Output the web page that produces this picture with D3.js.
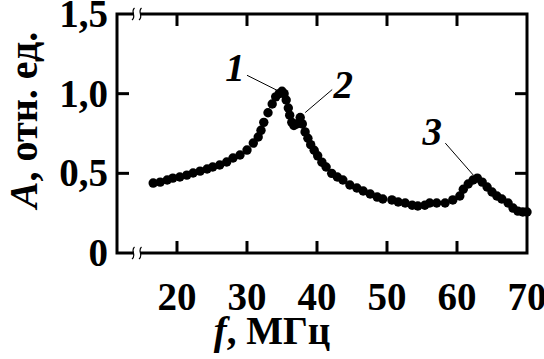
<!DOCTYPE html>
<html>
<head>
<meta charset="utf-8">
<script src="https://cdn.jsdelivr.net/npm/d3@7"></script>
<style>
  body { margin: 0; background: #fff; }
  svg text { font-family: "Liberation Serif", "Times New Roman", serif; font-weight: bold; fill: #000; }
</style>
</head>
<body>
<div id="chart"></div>
<script>
// данные
var freq = [16.6, 17.6, 18.6, 19.4, 20.4, 21.4, 22.3, 23.3, 24.3, 25.1, 26.1, 27.1, 28.0, 29.0, 30.0, 30.9, 31.6, 32.0, 32.4, 33.0, 33.6, 34.1, 34.6, 35.0, 35.3, 35.6, 35.9, 36.1, 36.4, 36.7, 37.1, 37.6, 37.9, 38.3, 38.7, 39.1, 39.6, 40.1, 40.7, 41.3, 42.1, 42.9, 43.7, 44.7, 45.7, 46.6, 47.6, 48.6, 49.4, 50.7, 51.6, 52.6, 53.6, 54.4, 55.4, 56.1, 57.1, 58.3, 59.4, 60.4, 60.9, 61.6, 62.3, 62.9, 63.6, 64.3, 65.0, 65.7, 66.4, 67.3, 68.0, 68.7, 69.4, 70.0]
var amp = [0.439, 0.445, 0.458, 0.47, 0.477, 0.489, 0.502, 0.514, 0.527, 0.54, 0.552, 0.571, 0.596, 0.615, 0.646, 0.69, 0.728, 0.77, 0.82, 0.88, 0.935, 0.98, 1.0, 1.015, 1.0, 0.96, 0.91, 0.865, 0.82, 0.80, 0.81, 0.85, 0.81, 0.76, 0.72, 0.68, 0.645, 0.61, 0.57, 0.54, 0.50, 0.477, 0.458, 0.427, 0.408, 0.389, 0.37, 0.351, 0.339, 0.333, 0.32, 0.314, 0.30, 0.295, 0.30, 0.314, 0.314, 0.314, 0.333, 0.358, 0.40, 0.433, 0.458, 0.47, 0.445, 0.414, 0.383, 0.358, 0.339, 0.314, 0.282, 0.263, 0.257, 0.257]
var xTicks = [20, 30, 40, 50, 60, 70]
var yTicks = [0, 0.5, 1.0, 1.5]
var peakNames = ['1', '2', '3']
var peakFreq = [35.0, 37.6, 62.9]

var width = 544, height = 359
var pLeft = 117, pRight = 527, pTop = 14, pBottom = 253

var svg = d3.select('#chart').append('svg')
  .attr('width', width)
  .attr('height', height)

var x = d3.scaleLinear().domain([11.43, 70]).range([pLeft, pRight])
var y = d3.scaleLinear().domain([0, 1.5]).range([pBottom, pTop])

var fmt = function(d) { return d === 0 ? '0' : d3.format('.1f')(d).replace('.', ',') }

// рамка
svg.append('rect')
  .attr('x', pLeft).attr('y', pTop)
  .attr('width', pRight - pLeft).attr('height', pBottom - pTop)
  .attr('fill', 'none').attr('stroke', '#000').attr('stroke-width', 3)

// засечки внутрь
var tl = 12
svg.selectAll('.tb').data(xTicks.slice(0, -1)).enter().append('line')
  .attr('x1', d => x(d)).attr('x2', d => x(d))
  .attr('y1', pBottom).attr('y2', pBottom - tl)
  .attr('stroke', '#000').attr('stroke-width', 3)
svg.selectAll('.tt').data(xTicks.slice(0, -1)).enter().append('line')
  .attr('x1', d => x(d)).attr('x2', d => x(d))
  .attr('y1', pTop).attr('y2', pTop + tl)
  .attr('stroke', '#000').attr('stroke-width', 3)
svg.selectAll('.tl').data(yTicks.slice(1, -1)).enter().append('line')
  .attr('x1', pLeft).attr('x2', pLeft + tl)
  .attr('y1', d => y(d)).attr('y2', d => y(d))
  .attr('stroke', '#000').attr('stroke-width', 3)
svg.selectAll('.tr').data(yTicks.slice(1, -1)).enter().append('line')
  .attr('x1', pRight).attr('x2', pRight - tl)
  .attr('y1', d => y(d)).attr('y2', d => y(d))
  .attr('stroke', '#000').attr('stroke-width', 3)

// подписи осей
svg.selectAll('.xl').data(xTicks).enter().append('text')
  .attr('x', d => x(d)).attr('y', 310)
  .attr('text-anchor', 'middle')
  .attr('font-size', 39)
  .text(d => d)
svg.selectAll('.yl').data(yTicks).enter().append('text')
  .attr('x', 108).attr('y', d => y(d) + 13)
  .attr('text-anchor', 'end')
  .attr('font-size', 39)
  .text(fmt)

// разрывы оси
function breakMark(cx, cy) {
  var g = svg.append('g').attr('transform', 'translate(' + cx + ',' + cy + ')')
  g.append('rect').attr('x', -3).attr('y', -6).attr('width', 6).attr('height', 12).attr('fill', '#fff')
  ;[-4, 3].forEach(function(o) {
    g.append('path')
      .attr('d', 'M' + (o + 1.5) + ',-6 C' + (o - 3) + ',-2 ' + (o + 4) + ',2 ' + (o - 1) + ',6')
      .attr('fill', 'none').attr('stroke', '#000').attr('stroke-width', 1.2)
  })
}
breakMark(137, pTop)
breakMark(137, pBottom)

// точки
svg.selectAll('.pt').data(freq).enter().append('circle')
  .attr('cx', d => x(d))
  .attr('cy', (d, i) => y(amp[i]))
  .attr('r', 4.7)
  .attr('fill', '#000')

// метки пиков
var leadFrom = [[-30, -15], [27, -23], [-28, -32]]
var leadGap = [[-5, -1], [5, -5], [-4, -3]]
var labelOff = [[-47, -10], [43, -20], [-45, -33]]
peakFreq.forEach(function(f, k) {
  var i = freq.indexOf(f)
  var px = x(f), py = y(amp[i])
  svg.append('line')
    .attr('x1', px + leadGap[k][0] + leadFrom[k][0]).attr('y1', py + leadGap[k][1] + leadFrom[k][1])
    .attr('x2', px + leadGap[k][0]).attr('y2', py + leadGap[k][1])
    .attr('stroke', '#000').attr('stroke-width', 1)
  svg.append('text')
    .attr('x', px + labelOff[k][0]).attr('y', py + labelOff[k][1])
    .attr('text-anchor', 'middle')
    .attr('font-size', 39)
    .attr('font-style', 'italic')
    .text(peakNames[k])
})

// заголовки осей
var yt = svg.append('text')
  .attr('transform', 'translate(37,120) rotate(-90)')
  .attr('text-anchor', 'middle')
  .attr('font-size', 40)
yt.append('tspan').attr('font-style', 'italic').text('A')
yt.append('tspan').text(', отн. ед.')

var xt = svg.append('text')
  .attr('x', 272).attr('y', 344)
  .attr('text-anchor', 'middle')
  .attr('font-size', 39)
xt.append('tspan').attr('font-style', 'italic').text('f')
xt.append('tspan').text(', МГц')
</script>
</body>
</html>
